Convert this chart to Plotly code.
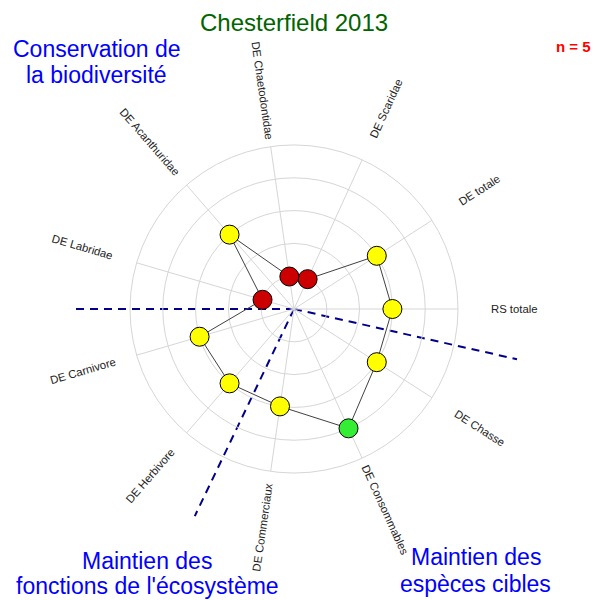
import math
import plotly.graph_objects as go

# ---------------- data ----------------
categories = ["RS totale", "DE totale", "DE Scaridae", "DE Chaetodontidae",
              "DE Acanthuridae", "DE Labridae", "DE Carnivore", "DE Herbivore",
              "DE Commerciaux", "DE Consommables", "DE Chasse"]
scores = [3, 3, 1, 1, 3, 1, 3, 3, 3, 4, 3]
radial_ticks = [1, 2, 3, 4, 5]
score_colours = {1: "#CC0000", 2: "#FF8C00", 3: "#FFFF00", 4: "#33EE33", 5: "#008000"}
title_text = "Chesterfield 2013"
n_text = "n = 5"
sector_lines = [["Conservation de", "la biodiversité"],
                ["Maintien des", "fonctions de l'écosystème"],
                ["Maintien des", "espèces cibles"]]

# ---------------- geometry / style ----------------
W, H = 606, 600
CX, CY, RPX = 294, 309, 164          # polar centre and radius in pixels
RMAX = 5
unit = RPX / RMAX
separator_angles = [180, -12.7, 244.4]
separator_lens = [6.83, 6.97, 7.0]
label_r = 6.72
FONT = "Liberation Sans, Arial, sans-serif"

n = len(categories)
theta = [i * 360 / n for i in range(n)]

fig = go.Figure()

# dashed sector separators on an overlay cartesian axis (units = radial units)
for a, L in zip(separator_angles, separator_lens):
    fig.add_trace(go.Scatter(
        x=[0, L * math.cos(math.radians(a))],
        y=[0, L * math.sin(math.radians(a))],
        mode="lines", line=dict(color="#00008B", width=2, dash="8px,6px"),
        hoverinfo="skip", showlegend=False, xaxis="x", yaxis="y"))

# polygon
fig.add_trace(go.Scatterpolar(
    r=scores + [scores[0]], theta=theta + [theta[0]], mode="lines",
    line=dict(color="#404040", width=1), hoverinfo="skip", showlegend=False))
# markers
fig.add_trace(go.Scatterpolar(
    r=scores, theta=theta, mode="markers",
    marker=dict(size=19, color=[score_colours[s] for s in scores],
                line=dict(color="black", width=1)),
    text=categories, showlegend=False))

annotations = []
for cat, t in zip(categories, theta):
    rad = math.radians(t)
    if 90 < t < 270:
        ang = 180 - t
    else:
        ang = -(t if t <= 90 else t - 360)
    annotations.append(dict(
        x=label_r * math.cos(rad), y=label_r * math.sin(rad), xref="x", yref="y",
        text=cat, textangle=ang, showarrow=False, xanchor="center", yanchor="middle",
        font=dict(family=FONT, size=11.3, color="#222222")))


def py(ypx):
    return 1 - ypx / H


annotations.append(dict(x=294 / W, y=py(22.5), xref="paper", yref="paper", text=title_text,
                        showarrow=False, xanchor="center", yanchor="middle",
                        font=dict(family=FONT, size=24, color="#006400")))
annotations.append(dict(x=573.5 / W, y=py(46), xref="paper", yref="paper",
                        text="<b>" + n_text + "</b>", showarrow=False,
                        xanchor="center", yanchor="middle",
                        font=dict(family=FONT, size=15, color="#FF0000")))

block_pos = [[(96.5, 48.7), (96.5, 74.7)],
             [(146.5, 561), (147, 586)],
             [(476, 557), (475.5, 583.7)]]
for lines, poss in zip(sector_lines, block_pos):
    for txt, (xp, yp) in zip(lines, poss):
        annotations.append(dict(x=xp / W, y=py(yp), xref="paper", yref="paper", text=txt,
                                showarrow=False, xanchor="center", yanchor="middle",
                                font=dict(family=FONT, size=23, color="#0000FF")))

grid_col = "#D6D6D6"
fig.update_layout(
    width=W, height=H, margin=dict(l=0, r=0, t=0, b=0),
    paper_bgcolor="white", plot_bgcolor="white", showlegend=False,
    xaxis=dict(domain=[0, 1], range=[-CX / unit, (W - CX) / unit], visible=False, fixedrange=True),
    yaxis=dict(domain=[0, 1], range=[-(H - CY) / unit, CY / unit], visible=False, fixedrange=True),
    polar=dict(
        domain=dict(x=[(CX - RPX) / W, (CX + RPX) / W], y=[py(CY + RPX), py(CY - RPX)]),
        bgcolor="rgba(0,0,0,0)",
        radialaxis=dict(range=[0, RMAX], tickvals=radial_ticks, showticklabels=False,
                        ticks="", showline=False, gridcolor=grid_col, gridwidth=1),
        angularaxis=dict(tickvals=theta, showticklabels=False, ticks="",
                         direction="counterclockwise", rotation=0, thetaunit="degrees",
                         gridcolor=grid_col, linecolor=grid_col, linewidth=1, showline=True)),
    annotations=annotations,
)

fig.write_html("out.html", config={"displayModeBar": False},
               post_script="document.body.style.margin='0';document.body.style.overflow='hidden';")
